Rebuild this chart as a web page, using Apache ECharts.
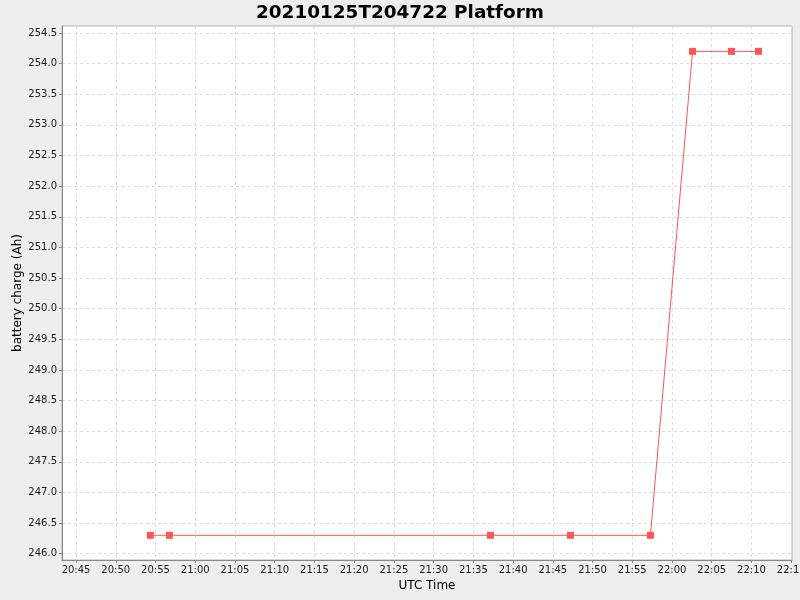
<!DOCTYPE html>
<html>
<head>
<meta charset="utf-8">
<script src="https://cdn.jsdelivr.net/npm/echarts@6/dist/echarts.min.js"></script>
<style>
html,body{margin:0;padding:0;background:#eeeeee;}
#c{width:800px;height:600px;}
</style>
</head>
<body>
<div id="c"></div>
<script>
const chartTitle = '20210125T204722 Platform';
const xName = 'UTC Time';
const yName = 'battery charge (Ah)';
const day = '2021-01-25';
const times = ['20:54:21','20:56:45','21:37:09','21:47:13','21:57:17','22:02:35','22:07:29','22:10:53'];
const charge = [246.3, 246.3, 246.3, 246.3, 246.3, 254.2, 254.2, 254.2];
// full plotted extents (axis edges)
const xRange = ['20:43:14', '22:15:06'];
const yRange = [245.897, 254.614];
// labelled tick ranges
const xTickRange = ['20:45:00', '22:15:00'];
const yTickRange = [246.0, 254.5];
const xStepMin = 5;
const yStep = 0.5;

function ts(t){ return Date.parse(day + 'T' + t + 'Z'); }
function pad(n){ return (n < 10 ? '0' : '') + n; }

const data = times.map((t, i) => [ts(t), charge[i]]);
const xStep = xStepMin * 60000;

// plot rectangle
const P = { left: 62, right: 8, top: 26, bottom: 40 };
const plotW = 800 - P.left - P.right;
const plotH = 600 - P.top - P.bottom;
const x0 = ts(xRange[0]), x1 = ts(xRange[1]);
const xt0 = ts(xTickRange[0]), xt1 = ts(xTickRange[1]);
const tickLeft = P.left + (xt0 - x0) / (x1 - x0) * plotW;
const tickRight = P.right + (x1 - xt1) / (x1 - x0) * plotW;
const tickTop = P.top + (yRange[1] - yTickRange[1]) / (yRange[1] - yRange[0]) * plotH;
const tickBottom = P.bottom + (yTickRange[0] - yRange[0]) / (yRange[1] - yRange[0]) * plotH;

const font = 'DejaVu Sans';
const grey = '#888888';
const labelColor = '#1a1a1a';
const split = { show: true, lineStyle: { color: '#dddddd', type: [3, 3], width: 1 } };
const hidden = { show: false };

const chart = echarts.init(document.getElementById('c'));
chart.setOption({
  backgroundColor: '#eeeeee',
  animation: false,
  title: {
    text: chartTitle, left: 'center', top: -1,
    textStyle: { fontFamily: font, fontSize: 18.4, fontWeight: 'bold', color: '#000' }
  },
  grid: [
    { left: P.left, right: P.right, top: P.top, bottom: P.bottom, containLabel: false, outerBoundsMode: 'none',
      show: true, backgroundColor: '#ffffff', borderColor: '#b0b0b0', borderWidth: 1 },
    { left: tickLeft, right: tickRight, top: P.top, bottom: P.bottom, containLabel: false, outerBoundsMode: 'none' },
    { left: P.left, right: P.right, top: tickTop, bottom: tickBottom, containLabel: false, outerBoundsMode: 'none' }
  ],
  xAxis: [
    { gridIndex: 0, type: 'value', min: x0, max: x1,
      name: xName, nameLocation: 'middle', nameGap: 20,
      nameTextStyle: { fontFamily: font, fontSize: 12, color: '#000' },
      axisLine: { show: true, lineStyle: { color: grey, width: 1 } },
      axisTick: hidden, axisLabel: hidden, splitLine: hidden },
    { gridIndex: 1, type: 'value', min: xt0, max: xt1, interval: xStep,
      axisLine: hidden,
      axisTick: { show: true, length: 3, lineStyle: { color: grey } },
      axisLabel: {
        fontFamily: font, fontSize: 10, color: labelColor, margin: 5,
        showMinLabel: true, showMaxLabel: true, hideOverlap: false,
        formatter: v => { const d = new Date(v); return pad(d.getUTCHours()) + ':' + pad(d.getUTCMinutes()); }
      },
      splitLine: split },
    { gridIndex: 2, type: 'value', min: x0, max: x1, show: false }
  ],
  yAxis: [
    { gridIndex: 0, type: 'value', min: yRange[0], max: yRange[1],
      name: yName, nameLocation: 'middle', nameGap: 38, nameRotate: 90,
      nameTextStyle: { fontFamily: font, fontSize: 12, color: '#000' },
      axisLine: { show: true, lineStyle: { color: grey, width: 1 } },
      axisTick: hidden, axisLabel: hidden, splitLine: hidden },
    { gridIndex: 1, type: 'value', min: yRange[0], max: yRange[1], show: false },
    { gridIndex: 2, type: 'value', min: yTickRange[0], max: yTickRange[1], interval: yStep,
      axisLine: hidden,
      axisTick: { show: true, length: 3, lineStyle: { color: grey } },
      axisLabel: {
        fontFamily: font, fontSize: 10, color: labelColor, margin: 5,
        formatter: v => v.toFixed(1)
      },
      splitLine: split }
  ],
  series: [{
    type: 'line',
    xAxisIndex: 0, yAxisIndex: 0,
    data: data,
    symbol: 'rect',
    symbolSize: 7,
    showAllSymbol: true,
    z: 5,
    itemStyle: { color: '#ff5555' },
    lineStyle: { color: '#ff5555', width: 1 }
  }]
});
</script>
</body>
</html>
